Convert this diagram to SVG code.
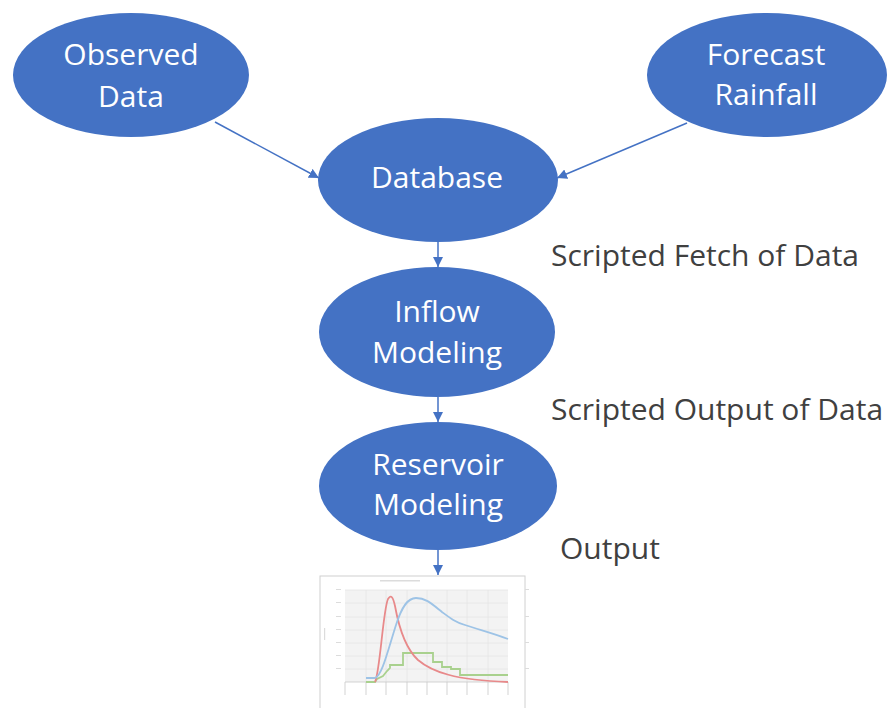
<svg xmlns="http://www.w3.org/2000/svg" width="889" height="708" viewBox="0 0 889 708">
<style>
.node{fill:#4472C4;}
.nt{font-family:"Open Sans","Liberation Sans",sans-serif;font-size:30px;fill:#ffffff;text-anchor:middle;}
.lbl{font-family:"Open Sans","Liberation Sans",sans-serif;font-size:30px;fill:#404040;}
.conn{stroke:#4472C4;stroke-width:1.5;fill:none;}
.grid{stroke:#e4e4e4;stroke-width:0.8;}
.tick{stroke:#c8c8c8;stroke-width:0.8;}
</style>
<defs>
<marker id="ah" viewBox="0 0 10 10" refX="10" refY="5" markerWidth="10" markerHeight="10" orient="auto" markerUnits="userSpaceOnUse">
<path d="M0,0 L10,5 L0,10 z" fill="#4472C4"/>
</marker>
</defs>
<rect width="889" height="708" fill="#ffffff"/>
<g id="observed-data">
<ellipse class="node" cx="131" cy="75" rx="118" ry="62"/>
<text class="nt" x="131" y="65">Observed</text>
<text class="nt" x="131" y="107">Data</text>
</g>
<g id="forecast-rainfall">
<ellipse class="node" cx="767" cy="75" rx="120" ry="62"/>
<text class="nt" x="766" y="65">Forecast</text>
<text class="nt" x="766" y="105">Rainfall</text>
</g>
<g id="database">
<ellipse class="node" cx="438" cy="180" rx="120" ry="62"/>
<text class="nt" x="437" y="188">Database</text>
</g>
<g id="inflow-modeling">
<ellipse class="node" cx="437" cy="332" rx="118" ry="65"/>
<text class="nt" x="437" y="322">Inflow</text>
<text class="nt" x="437" y="363">Modeling</text>
</g>
<g id="reservoir-modeling">
<ellipse class="node" cx="438" cy="486" rx="119" ry="64"/>
<text class="nt" x="438" y="475">Reservoir</text>
<text class="nt" x="438" y="515">Modeling</text>
</g>
<g id="connectors">
<line class="conn" x1="215" y1="122" x2="319" y2="178" marker-end="url(#ah)"/>
<line class="conn" x1="687" y1="123" x2="557" y2="178" marker-end="url(#ah)"/>
<line class="conn" x1="438" y1="242" x2="438" y2="267" marker-end="url(#ah)"/>
<line class="conn" x1="438" y1="397" x2="438" y2="422" marker-end="url(#ah)"/>
<line class="conn" x1="438" y1="550" x2="438" y2="575" marker-end="url(#ah)"/>
</g>
<g id="labels">
<text class="lbl" x="551" y="266">Scripted Fetch of Data</text>
<text class="lbl" x="551" y="420">Scripted Output of Data</text>
<text class="lbl" x="560" y="559">Output</text>
</g>
<g id="chart">
<rect x="320" y="576" width="205" height="140" fill="#ffffff" stroke="#d0d0d0" stroke-width="1"/>
<rect x="345" y="590" width="163" height="92" fill="#f3f3f3"/>
<g class="grid">
<line x1="345" y1="590" x2="508" y2="590"/>
<line x1="345" y1="603" x2="508" y2="603"/>
<line x1="345" y1="617" x2="508" y2="617"/>
<line x1="345" y1="630" x2="508" y2="630"/>
<line x1="345" y1="643" x2="508" y2="643"/>
<line x1="345" y1="656" x2="508" y2="656"/>
<line x1="345" y1="669" x2="508" y2="669"/>
<line x1="366" y1="590" x2="366" y2="682"/>
<line x1="386" y1="590" x2="386" y2="682"/>
<line x1="407" y1="590" x2="407" y2="682"/>
<line x1="427" y1="590" x2="427" y2="682"/>
<line x1="447" y1="590" x2="447" y2="682"/>
<line x1="467" y1="590" x2="467" y2="682"/>
<line x1="488" y1="590" x2="488" y2="682"/>
</g>
<g class="tick">
<line x1="345" y1="682" x2="508" y2="682"/>
<line x1="345" y1="682" x2="345" y2="695"/>
<line x1="366" y1="682" x2="366" y2="695"/>
<line x1="386" y1="682" x2="386" y2="695"/>
<line x1="407" y1="682" x2="407" y2="695"/>
<line x1="427" y1="682" x2="427" y2="695"/>
<line x1="447" y1="682" x2="447" y2="695"/>
<line x1="467" y1="682" x2="467" y2="695"/>
<line x1="488" y1="682" x2="488" y2="695"/>
<line x1="508" y1="682" x2="508" y2="695"/>
</g>
<g fill="#dcdcdc">
<rect x="380" y="580" width="40" height="1.5"/>
<rect x="336" y="589" width="5" height="1"/>
<rect x="336" y="602" width="5" height="1"/>
<rect x="336" y="616" width="5" height="1"/>
<rect x="336" y="629" width="5" height="1"/>
<rect x="336" y="642" width="5" height="1"/>
<rect x="336" y="655" width="5" height="1"/>
<rect x="336" y="668" width="5" height="1"/>
<rect x="324" y="628" width="1.2" height="12"/>
<rect x="525" y="589" width="4" height="1"/>
<rect x="525" y="616" width="4" height="1"/>
<rect x="525" y="642" width="4" height="1"/>
<rect x="525" y="668" width="4" height="1"/>
</g>
<polyline fill="none" stroke="#a9d18e" stroke-width="1.8" points="366,682 375,682 377,679 383,676 387,671 390,668 390,665 403,665 403,653 433,653 433,662 442,662 442,667 451,667 451,669 460,669 460,675 508,675"/>
<path fill="none" stroke="#e8898a" stroke-width="1.8" d="M375,682 C380,672 383,610 388,599 C391,594 393,597 395,606 C399,628 405,648 418,660 C432,672 455,680 508,682"/>
<path fill="none" stroke="#9dc3e6" stroke-width="1.8" d="M366,678 L375,678 C382,676 388,650 396,625 C402,606 408,598 416,598 C426,598 432,604 442,612 C450,618 455,622 465,625 C480,630 495,634 508,639"/>
</g>
</svg>
